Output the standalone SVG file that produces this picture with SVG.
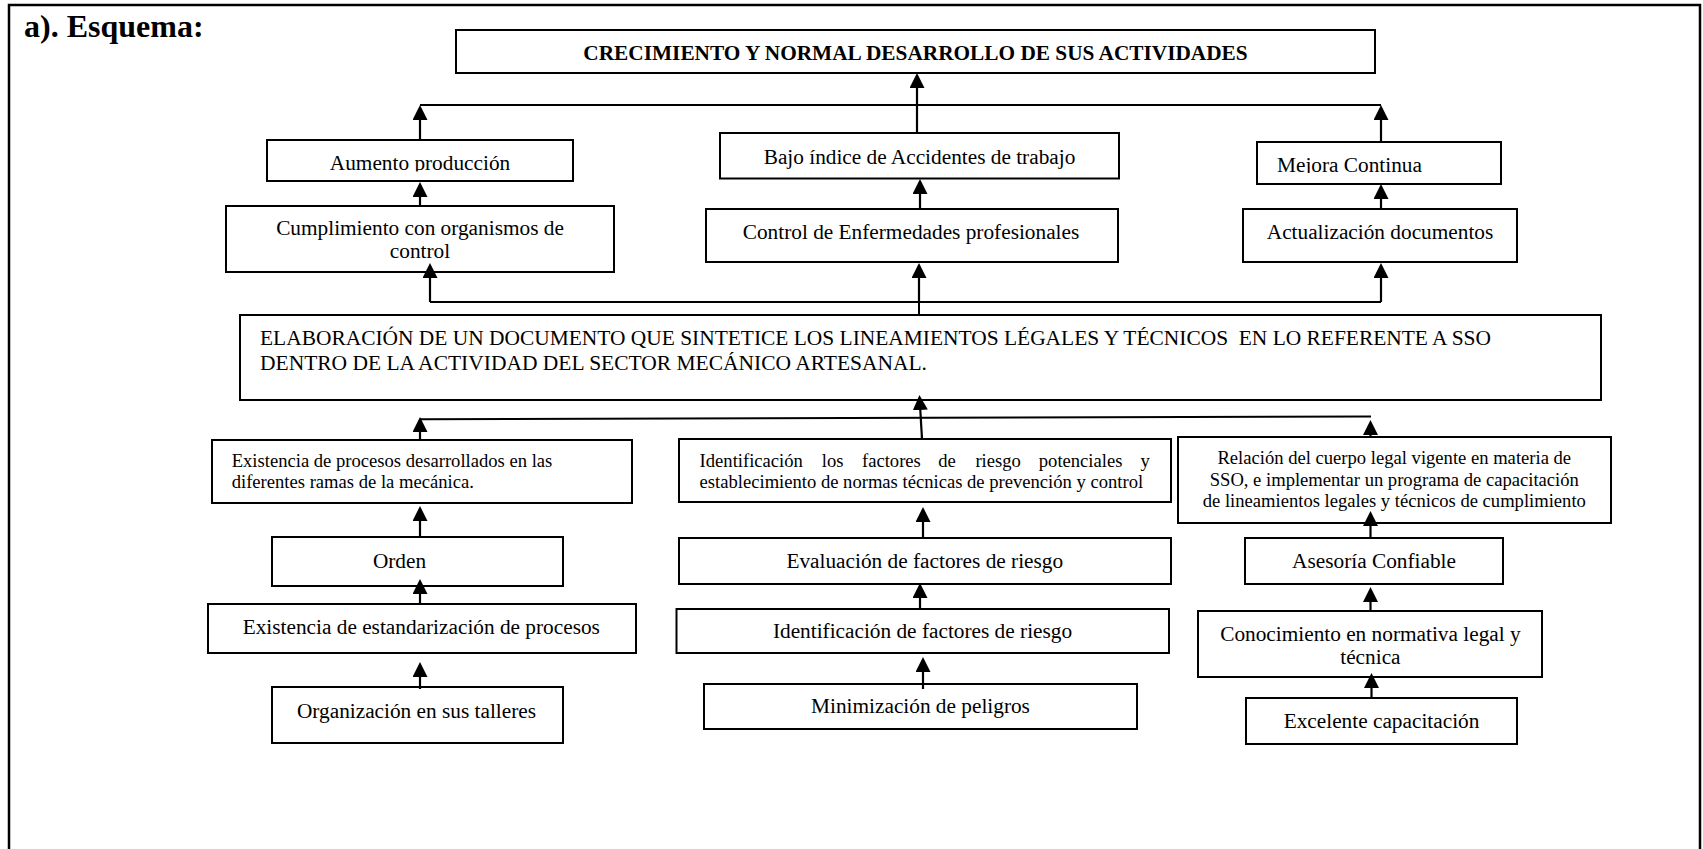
<svg xmlns="http://www.w3.org/2000/svg" width="1703" height="849" viewBox="0 0 1703 849">
<style>
.b{fill:#fff;stroke:#000;stroke-width:2}
.t{font-family:"Liberation Serif","Times New Roman",serif;font-size:21.3px;fill:#000}
.s{font-size:18.6px}
.bold{font-weight:bold}
.m{text-anchor:middle}
.c{stroke:#000;stroke-width:2;fill:none}
.a{stroke:#000;stroke-width:2.2;fill:none;marker-end:url(#ah)}
</style>
<defs>
<marker id="ah" markerUnits="userSpaceOnUse" viewBox="0 0 15 15" markerWidth="15" markerHeight="15" refX="12" refY="7.5" orient="auto">
<path d="M0,0 L15,7.5 L0,15 z" fill="#000"/>
</marker>
<clipPath id="clipA"><rect x="268" y="141" width="304" height="30.5"/></clipPath>
<clipPath id="clipM"><rect x="1258" y="143" width="242" height="30"/></clipPath>
</defs>
<rect width="1703" height="849" fill="#fff"/>
<path d="M9,849 V5 H1700 V849" fill="none" stroke="#000" stroke-width="2.5"/>
<text class="t bold" x="24" y="37" style="font-size:32px">a). Esquema:</text>

<g id="n-top">
<rect class="b" x="456" y="30" width="919" height="43"/>
<text class="t bold m" x="915.5" y="60">CRECIMIENTO Y NORMAL DESARROLLO DE SUS ACTIVIDADES</text>
</g>
<g id="n-aumento">
<rect class="b" x="267" y="140" width="306" height="41"/>
<text class="t m" x="420" y="170" clip-path="url(#clipA)">Aumento producción</text>
</g>
<g id="n-bajo">
<rect class="b" x="720" y="133" width="399" height="45.5"/>
<text class="t m" x="919.5" y="164">Bajo índice de Accidentes de trabajo</text>
</g>
<g id="n-mejora">
<rect class="b" x="1257" y="142" width="244" height="42"/>
<text class="t" x="1277" y="172" clip-path="url(#clipM)">Mejora Continua</text>
</g>
<g id="n-cumplimiento">
<rect class="b" x="226" y="206" width="388" height="66"/>
<text class="t m" x="420" y="235">Cumplimiento con organismos de</text>
<text class="t m" x="420" y="258">control</text>
</g>
<g id="n-control">
<rect class="b" x="706" y="209" width="412" height="53"/>
<text class="t m" x="911" y="239">Control de Enfermedades profesionales</text>
</g>
<g id="n-actualizacion">
<rect class="b" x="1243" y="209" width="274" height="53"/>
<text class="t m" x="1380" y="239">Actualización documentos</text>
</g>
<g id="n-elaboracion">
<rect class="b" x="240" y="315" width="1361" height="85"/>
<text class="t" x="260" y="345" xml:space="preserve" textLength="1231" lengthAdjust="spacingAndGlyphs">ELABORACIÓN DE UN DOCUMENTO QUE SINTETICE LOS LINEAMIENTOS LÉGALES Y TÉCNICOS  EN LO REFERENTE A SSO</text>
<text class="t" x="260" y="370" textLength="667" lengthAdjust="spacingAndGlyphs">DENTRO DE LA ACTIVIDAD DEL SECTOR MECÁNICO ARTESANAL.</text>
</g>
<g id="n-existencia">
<rect class="b" x="212" y="440" width="420" height="63"/>
<text class="t s" x="231.7" y="466.7">Existencia de procesos desarrollados en las</text>
<text class="t s" x="231.7" y="487.7">diferentes ramas de la mecánica.</text>
</g>
<g id="n-identificacion-pot">
<rect class="b" x="679" y="439" width="492" height="63"/>
<text class="t s" y="466.7"><tspan x="699.6">Identificación</tspan><tspan x="821.8">los</tspan><tspan x="862">factores</tspan><tspan x="938.2">de</tspan><tspan x="975.4">riesgo</tspan><tspan x="1038.8">potenciales</tspan><tspan x="1140.4">y</tspan></text>
<text class="t s" x="699.6" y="488.3">establecimiento de normas técnicas de prevención y control</text>
</g>
<g id="n-relacion">
<rect class="b" x="1178" y="437" width="433" height="86"/>
<text class="t s m" x="1394.3" y="464.3">Relación del cuerpo legal vigente en materia de</text>
<text class="t s m" x="1394.3" y="485.7">SSO, e implementar un programa de capacitación</text>
<text class="t s m" x="1394.3" y="507.3">de lineamientos legales y técnicos de cumplimiento</text>
</g>
<g id="n-orden">
<rect class="b" x="272" y="537" width="291" height="49"/>
<text class="t m" x="399.5" y="567.7">Orden</text>
</g>
<g id="n-evaluacion">
<rect class="b" x="679" y="538" width="492" height="46"/>
<text class="t m" x="924.8" y="567.7">Evaluación de factores de riesgo</text>
</g>
<g id="n-asesoria">
<rect class="b" x="1245" y="538" width="258" height="46"/>
<text class="t m" x="1374" y="568.3">Asesoría Confiable</text>
</g>
<g id="n-estandarizacion">
<rect class="b" x="208" y="604" width="428" height="49"/>
<text class="t m" x="421.3" y="634.3">Existencia de estandarización de procesos</text>
</g>
<g id="n-identificacion-fr">
<rect class="b" x="676.5" y="609" width="492.5" height="44"/>
<text class="t m" x="922.5" y="638.3">Identificación de factores de riesgo</text>
</g>
<g id="n-conocimiento">
<rect class="b" x="1198" y="611" width="344" height="66"/>
<text class="t m" x="1370.4" y="640.7">Conocimiento en normativa legal y</text>
<text class="t m" x="1370.4" y="664.3">técnica</text>
</g>
<g id="n-organizacion">
<rect class="b" x="272" y="687" width="291" height="56"/>
<text class="t m" x="416.5" y="717.7">Organización en sus talleres</text>
</g>
<g id="n-minimizacion">
<rect class="b" x="704" y="684" width="433" height="45"/>
<text class="t m" x="920.5" y="713.3">Minimización de peligros</text>
</g>
<g id="n-excelente">
<rect class="b" x="1246" y="698" width="271" height="46"/>
<text class="t m" x="1381.5" y="728.3">Excelente capacitación</text>
</g>

<g id="connectors">
<path class="c" d="M420,105 H1381"/>
<line class="a" x1="420" y1="140" x2="420" y2="108"/>
<line class="a" x1="1381" y1="142" x2="1381" y2="108"/>
<line class="a" x1="917" y1="133" x2="917" y2="76"/>
<line class="a" x1="420" y1="206" x2="420" y2="185"/>
<line class="a" x1="920" y1="209" x2="920" y2="182"/>
<line class="a" x1="1381" y1="209" x2="1381" y2="187"/>
<path class="c" d="M430,302 H1381 M919,315 V302"/>
<line class="a" x1="430" y1="302" x2="430" y2="266"/>
<line class="a" x1="919" y1="302" x2="919" y2="266"/>
<line class="a" x1="1381" y1="302" x2="1381" y2="266"/>
<path class="c" d="M420,419.3 L1371,416.5"/>
<line class="a" x1="922" y1="439" x2="919.6" y2="398"/>
<line class="a" x1="420" y1="440" x2="420" y2="420"/>
<line class="a" x1="1370.5" y1="437" x2="1370.5" y2="423"/>
<line class="a" x1="420" y1="537" x2="420" y2="509"/>
<line class="a" x1="420" y1="604" x2="420" y2="582"/>
<line class="a" x1="420" y1="689" x2="420" y2="665"/>
<line class="a" x1="923" y1="538" x2="923" y2="510"/>
<line class="a" x1="920" y1="609" x2="920" y2="586"/>
<line class="a" x1="923" y1="689" x2="923" y2="660"/>
<line class="a" x1="1370.5" y1="538" x2="1370.5" y2="514"/>
<line class="a" x1="1370.5" y1="611" x2="1370.5" y2="590"/>
<line class="a" x1="1371.5" y1="698" x2="1371.5" y2="676"/>
</g>
</svg>
